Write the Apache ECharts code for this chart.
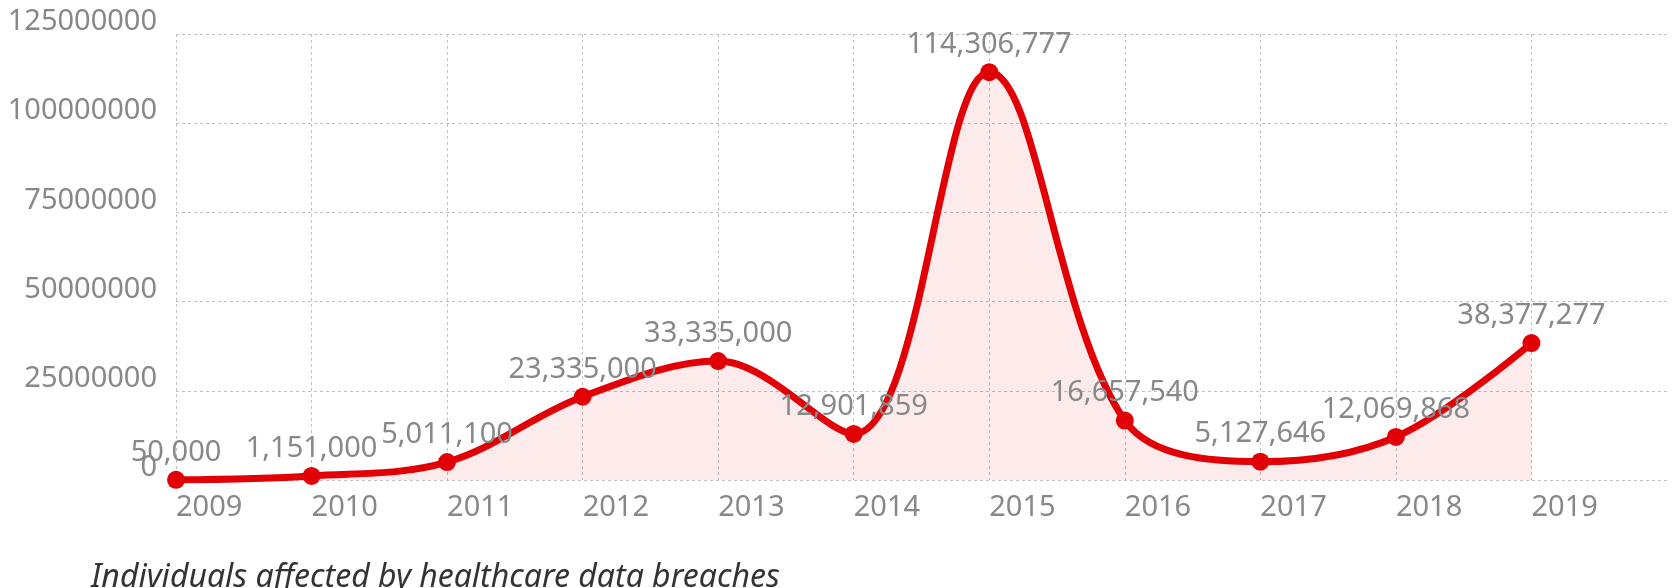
<!DOCTYPE html>
<html>
<head>
<meta charset="utf-8">
<script src="https://cdn.jsdelivr.net/npm/echarts@6/dist/echarts.min.js"></script>
<style>
html,body{margin:0;padding:0;background:#fff;}
#chart{width:1680px;height:588px;}
</style>
</head>
<body>
<div id="chart"></div>
<script>
const years = [2009, 2010, 2011, 2012, 2013, 2014, 2015, 2016, 2017, 2018, 2019];
const affected = [50000, 1151000, 5011100, 23335000, 33335000, 12901859, 114306777, 16657540, 5127646, 12069868, 38377277];
const yTicks = [0, 25000000, 50000000, 75000000, 100000000, 125000000];
const titleText = 'Individuals affected by healthcare data breaches';

const points = years.map((y, i) => [y, affected[i]]);
const labelColor = '#888888';
const font = 'Noto Sans';

const chart = echarts.init(document.getElementById('chart'));
chart.setOption({
  animation: false,
  title: {
    text: titleText,
    left: 86,
    top: 557,
    textStyle: { fontFamily: font, fontSize: 32, fontStyle: 'italic', fontWeight: 'normal', color: '#333' }
  },
  grid: { left: 176, right: 13, top: 34, bottom: 108, containLabel: false },
  xAxis: {
    type: 'value',
    min: years[0],
    max: years[years.length - 1] + 1,
    interval: 1,
    axisLine: { show: false },
    axisTick: { show: false },
    axisLabel: {
      align: 'left',
      margin: 13,
      fontFamily: font,
      fontSize: 29,
      color: labelColor,
      showMaxLabel: false,
      formatter: v => String(v)
    },
    splitLine: { show: true, showMaxLine: false, lineStyle: { color: '#c0c0c0', type: [3, 3], width: 1 } }
  },
  yAxis: {
    type: 'value',
    min: yTicks[0],
    max: yTicks[yTicks.length - 1],
    interval: yTicks[1] - yTicks[0],
    axisLine: { show: false },
    axisTick: { show: false },
    axisLabel: {
      margin: 19,
      fontFamily: font,
      fontSize: 29,
      color: labelColor,
      verticalAlign: 'bottom',
      lineHeight: 24,
      formatter: v => String(v)
    },
    splitLine: { show: true, lineStyle: { color: '#c0c0c0', type: [3, 3], width: 1 } }
  },
  series: [{
    type: 'line',
    data: points,
    smooth: 0.35,
    symbol: 'circle',
    symbolSize: 18,
    itemStyle: { color: '#e00006' },
    lineStyle: { color: '#e00006', width: 7 },
    areaStyle: { color: 'rgba(235,0,0,0.11)' },
    label: {
      show: true,
      position: 'top',
      distance: 4,
      fontFamily: font,
      fontSize: 29,
      color: labelColor,
      formatter: p => p.value[1].toLocaleString('en-US')
    }
  }]
});
</script>
</body>
</html>
